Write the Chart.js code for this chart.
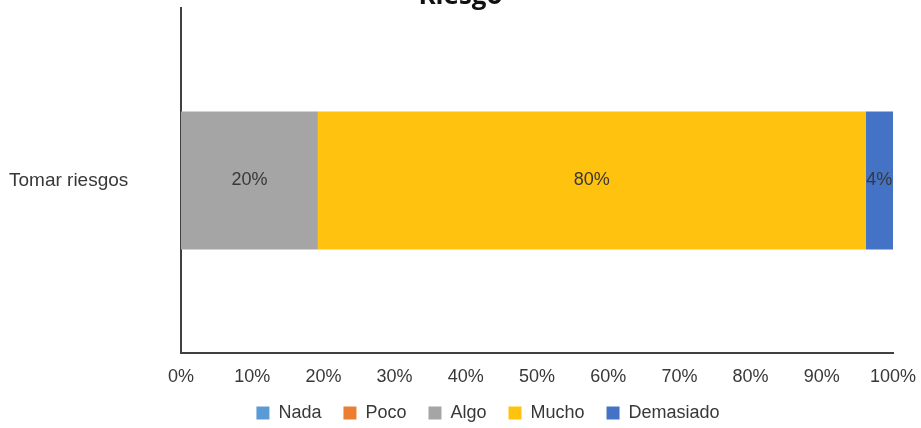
<!DOCTYPE html>
<html>
<head>
<meta charset="utf-8">
<script src="https://cdn.jsdelivr.net/npm/chart.js@4.4.0/dist/chart.umd.min.js"></script>
<style>
  html, body { margin:0; padding:0; background:#fff; }
  #wrap { width:921px; height:428px; position:relative; }
</style>
</head>
<body>
<div id="wrap"><canvas id="chart-riesgo"></canvas></div>
<script>
// Datos de la encuesta
const categorias = ['Tomar riesgos'];
const series = ['Nada', 'Poco', 'Algo', 'Mucho', 'Demasiado'];
const valores = [[0], [0], [20], [80], [4]];
const colores = ['#5B9BD5', '#ED7D31', '#A5A5A5', '#FFC20E', '#4472C4'];
const ticksX = [0, 10, 20, 30, 40, 50, 60, 70, 80, 90, 100];
const titulo = 'Riesgo';

// 100% apilado: cada segmento como parte del total de la fila
const totales = categorias.map((_, i) => valores.reduce((s, v) => s + v[i], 0));

const TXT = '#383838';
const FONT = "'Liberation Sans', Arial, sans-serif";

// Título (queda cortado arriba)
const tituloPlugin = {
  id: 'tituloPlugin',
  afterDraw(chart) {
    const ctx = chart.ctx;
    ctx.save();
    ctx.font = "bold 26px 'Open Sans', sans-serif";
    ctx.fillStyle = '#111';
    ctx.textAlign = 'center';
    ctx.textBaseline = 'alphabetic';
    ctx.fillText(titulo, chart.width / 2, 4);
    ctx.restore();
  }
};

// Leyenda un poco corrida a la derecha
const leyendaPlugin = {
  id: 'leyendaPlugin',
  afterLayout(chart) {
    const lg = chart.legend;
    if (!lg) return;
    lg.left += 37;
    lg.right += 37;
  }
};

// Etiquetas de valor en el centro de cada segmento
const etiquetasPlugin = {
  id: 'etiquetasPlugin',
  afterDatasetsDraw(chart) {
    const ctx = chart.ctx;
    ctx.save();
    ctx.font = '18px ' + FONT;
    ctx.fillStyle = TXT;
    ctx.textAlign = 'center';
    ctx.textBaseline = 'middle';
    chart.data.datasets.forEach((ds, di) => {
      const meta = chart.getDatasetMeta(di);
      meta.data.forEach((bar, i) => {
        const raw = ds.raw[i];
        if (!raw) return;
        ctx.fillText(raw + '%', (bar.x + bar.base) / 2, bar.y);
      });
    });
    ctx.restore();
  }
};

new Chart(document.getElementById('chart-riesgo'), {
  type: 'bar',
  data: {
    labels: categorias,
    datasets: series.map((s, k) => ({
      label: s,
      raw: valores[k],
      data: valores[k].map((v, i) => v / totales[i] * 100),
      backgroundColor: colores[k],
      borderWidth: 0,
      barPercentage: 0.4,
      categoryPercentage: 1
    }))
  },
  options: {
    indexAxis: 'y',
    responsive: true,
    maintainAspectRatio: false,
    animation: false,
    layout: { padding: { top: 8, right: 28, left: 9, bottom: -4 } },
    plugins: {
      legend: {
        position: 'bottom',
        labels: { color: TXT, font: { family: FONT, size: 18 }, boxWidth: 13, boxHeight: 13, padding: 22 }
      },
      tooltip: { enabled: false }
    },
    scales: {
      x: {
        stacked: true,
        min: 0, max: 100,
        afterBuildTicks: sc => { sc.ticks = ticksX.map(v => ({ value: v })); },
        grid: { display: false, drawTicks: false },
        border: { display: true, color: '#404040', width: 2 },
        ticks: { color: TXT, font: { family: FONT, size: 18 }, padding: 13, maxRotation: 0, autoSkip: false, callback: v => v + '%' },
        afterFit: sc => { sc.height = 29; sc.paddingLeft = 0; sc.paddingRight = 0; }
      },
      y: {
        stacked: true,
        grid: { display: false, drawTicks: false },
        border: { display: true, color: '#404040', width: 2 },
        ticks: { color: TXT, font: { family: FONT, size: 19 }, padding: 0, crossAlign: 'far' },
        afterFit: sc => { sc.width = 172; sc.paddingTop = 0; sc.paddingBottom = 0; }
      }
    }
  },
  plugins: [tituloPlugin, leyendaPlugin, etiquetasPlugin]
});
</script>
</body>
</html>
